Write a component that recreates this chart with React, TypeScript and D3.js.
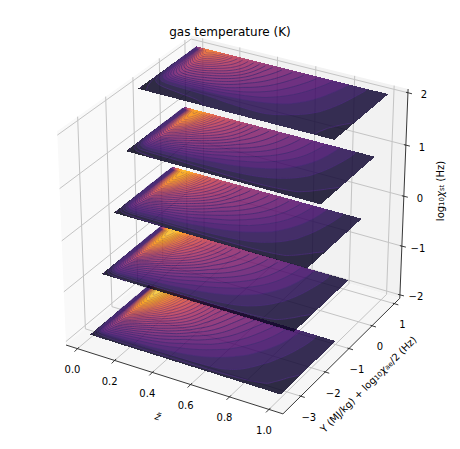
import { useEffect, useRef } from 'react';
import * as d3 from 'd3';

// tick values
const xTicks = [0, 0.2, 0.4, 0.6, 0.8, 1];
const yTicks = [-3, -2, -1, 0, 1];
const zTicks = [-2, -1, 0, 1, 2];

// sample positions of the tables below
const zGrid = [0, 0.01, 0.025, 0.05, 0.08, 0.13, 0.2, 0.3, 0.4, 0.55, 0.7, 0.85, 1];
const yGrid = [-2.25, -2.14, -2.03, -1.8, -1.58, -1.35, -1.01, -0.68, -0.34, 0];

const sliceM2 = [
  1, 2, 3, 3.5, 4, 4.5, 5, 5, 5, 5, 5, 5, 4.5,
  2, 5, 7, 8, 8.5, 9, 9, 9, 9, 9, 8.5, 7.5, 6,
  2, 7, 12, 14, 14, 13, 12.5, 12, 11.5, 10.8, 10, 8.2, 6.3,
  3, 12, 21, 25, 24, 22, 20, 17.5, 15, 12.5, 11, 8.6, 6.5,
  3, 15, 29, 35, 33, 29, 26, 22, 18, 14, 11.5, 9, 6.7,
  4, 18, 36, 45, 43, 37, 31, 26, 21, 16, 12.5, 9.3, 6.9,
  5, 22, 45, 60, 57, 47, 42, 35, 28, 19, 14, 10, 7,
  6, 26, 52, 72, 70, 56, 48, 39, 31, 21, 15.5, 10.5, 7.2,
  7, 28, 56, 80, 80, 63, 52, 42, 33, 22.5, 16.5, 11, 7.4,
  8, 30, 58, 82, 84, 66, 54, 43, 34, 25, 17.5, 11, 7.5,
];
const sliceM1 = [
  1, 2, 2.5, 3, 3.5, 4, 4.5, 4.5, 5, 5, 5, 5, 4.5,
  2, 4, 6, 6.5, 7, 7.5, 7.5, 7.5, 7.5, 7.5, 7.5, 7, 5.5,
  2, 6, 10, 12, 12, 11.5, 11, 10.8, 10.5, 10.2, 9.6, 8, 6.2,
  3, 11, 19, 23, 22, 20, 18, 16, 14, 12, 10.6, 8.6, 6.5,
  3, 14, 27, 33, 31, 27, 24, 20, 17, 14, 11.5, 9.2, 6.7,
  4, 17, 34, 43, 41, 34, 29, 24, 20, 16, 12.5, 9.6, 6.9,
  5, 21, 43, 58, 55, 45, 39, 32, 26, 19.5, 14.5, 10.2, 7,
  6, 25, 50, 69, 68, 54, 45, 37, 29, 22, 16, 10.6, 7.2,
  7, 27, 54, 77, 78, 61, 50, 40, 32, 23.5, 17, 11, 7.4,
  8, 29, 56, 79, 82, 64, 52, 42, 33, 24.5, 17.5, 11.2, 7.5,
];
const slice0 = [
  1, 2, 2.5, 3, 3.5, 4, 4, 4.5, 5, 5, 5, 5, 4.5,
  2, 3.5, 5, 5.5, 5.8, 6, 6.2, 6.5, 6.8, 7, 7, 6.5, 5.3,
  2, 5, 8, 9, 9.5, 9.5, 9.5, 9.6, 9.6, 9.6, 9.4, 7.8, 6,
  3, 9, 16, 20, 20, 18, 16.5, 15, 13.5, 11.5, 10.3, 8.5, 6.4,
  3, 13, 25, 30, 29, 26, 23, 19.5, 16.5, 13.5, 11.3, 9.2, 6.7,
  4, 16, 31, 40, 38, 33, 28, 23.5, 19.5, 15.5, 12.4, 9.6, 6.9,
  5, 20, 40, 54, 52, 43, 37, 31, 25, 19, 14.2, 10.2, 7,
  6, 23, 47, 65, 64, 52, 43, 36, 28.5, 21.5, 15.8, 10.6, 7.2,
  7, 25, 50, 72, 74, 59, 48, 39, 31, 23, 16.8, 11, 7.4,
  8, 27, 52, 74, 77, 62, 50, 41, 32, 24, 17.3, 11.2, 7.5,
];
const sliceP1 = [
  1, 2, 3, 3.5, 4, 4.5, 5, 5, 5.5, 6, 6, 5.5, 4.5,
  2, 3, 4.5, 5, 5.3, 5.6, 6, 6.3, 6.8, 7.4, 7.4, 6.5, 5.3,
  2, 4, 6, 7, 7.4, 7.7, 8, 8.4, 8.8, 9.2, 9, 7.8, 5.9,
  3, 7, 12, 15, 16, 15, 14, 13.2, 12.3, 11, 10, 8.5, 6.3,
  3, 11, 21, 26, 26, 24, 21, 18, 15.5, 13, 11, 9.2, 6.6,
  4, 14, 27, 36, 35, 31, 26.5, 22.5, 18.5, 15, 12.2, 9.6, 6.9,
  5, 18, 36, 49, 48, 41, 35, 29.5, 24, 18.5, 14, 10.2, 7,
  6, 21, 43, 60, 59, 49, 41, 35, 28, 21, 15.7, 10.6, 7.2,
  7, 23, 46, 67, 69, 56, 46, 38, 30, 22.5, 16.5, 11, 7.4,
  8, 25, 48, 69, 72, 59, 48, 40, 31, 23.5, 17, 11.2, 7.5,
];
const sliceP2 = [
  1, 3, 4.5, 5.2, 5.6, 6, 6.5, 7, 8, 9.5, 10.4, 9, 5,
  2, 3.5, 5, 5.5, 6, 6.3, 6.6, 7.2, 8.5, 9.6, 10, 8.6, 5.5,
  2, 4, 5, 6, 6.5, 6.8, 7, 7.6, 9, 9.8, 10, 8.6, 5.8,
  3, 5, 6.5, 7.5, 8, 8.5, 9, 9.5, 11, 10.4, 10, 8.8, 6.2,
  4, 7, 11, 14, 15, 15.5, 15.5, 15, 13.5, 12, 10.8, 9.3, 6.5,
  4, 9, 15, 21, 24, 25, 24, 21, 18, 14.5, 11.5, 9.6, 6.8,
  5, 12, 21, 29, 33, 33, 31, 27, 22, 17, 13, 10, 7,
  6, 16, 28, 39, 43, 42, 38, 33, 25, 18.5, 14, 10.3, 7.2,
  7, 20, 36, 50, 54, 50, 44, 37, 27, 20, 15, 10.5, 7.4,
  8, 25, 45, 63, 65, 58, 46, 36, 29, 21, 16, 11, 7.5,
];
const sliceLevels = [-2, -1, 0, 1, 2];
const sliceValues = [sliceM2, sliceM1, slice0, sliceP1, sliceP2];

const width = 460;
const height = 449;
const xLim = [-0.0625, 1.07];
const yLim = [-3.71, 1.25];
const zLim = [-2.07, 2.07];

// same camera as mplot3d: azim -60, elev 30, dist 10
const U = [0.866, 0.5, 0];
const V = [-0.25, 0.433, 0.866];
const N = [0.433, -0.75, 0.5];
const nx = d3.scaleLinear().domain(xLim).range([-0.5, 0.5]);
const ny = d3.scaleLinear().domain(yLim).range([-0.5, 0.5]);
const nz = d3.scaleLinear().domain(zLim).range([-0.5, 0.5]);
const project = (x: number, y: number, z: number): [number, number] => {
  const c = [nx(x), ny(y), nz(z)];
  const dot = (a: number[]) => a[0] * c[0] + a[1] * c[1] + a[2] * c[2];
  const w = 10 - dot(N);
  return [235.5 + (2504 * dot(U)) / w, 218.2 - (2440 * dot(V)) / w];
};

// table percent -> position on the inferno map
const colorPos = d3.scaleLinear()
  .domain([0, 5, 7.5, 10, 12.5, 15, 20, 25, 40, 60, 80, 100])
  .range([0.02, 0.06, 0.08, 0.11, 0.17, 0.21, 0.27, 0.33, 0.46, 0.68, 0.88, 1]);

// contour lines fade out over the hot part of a slice
const lineOpacity = d3.scaleLinear().domain([28, 60]).range([0.9, 0.25]).clamp(true);

const FINE = 4;

// resample a table on a finer index grid and soften it, so contours do not show the table cells
const refine = (values: number[], n: number, m: number) => {
  const fn = (n - 1) * FINE + 1;
  const fm = (m - 1) * FINE + 1;
  const out = new Float64Array(fn * fm);
  for (let j = 0; j < fm; j++) {
    const jj = Math.min(Math.floor(j / FINE), m - 2);
    const tj = j / FINE - jj;
    for (let i = 0; i < fn; i++) {
      const ii = Math.min(Math.floor(i / FINE), n - 2);
      const ti = i / FINE - ii;
      const a = d3.interpolateNumber(values[jj * n + ii], values[jj * n + ii + 1])(ti);
      const b = d3.interpolateNumber(values[(jj + 1) * n + ii], values[(jj + 1) * n + ii + 1])(ti);
      out[j * fn + i] = d3.interpolateNumber(a, b)(tj);
    }
  }
  d3.blur2({ data: out, width: fn, height: fm }, 1.5);
  return { data: Array.from(out), fn, fm };
};

const App = () => {
  const svgRef = useRef<SVGSVGElement>(null);

  useEffect(() => {
    if (!svgRef.current) return;
    const svg = d3.select(svgRef.current);
    svg.selectAll('*').remove();
    const line = d3.line();
    const [x0, x1] = xLim;
    const [y0, y1] = yLim;
    const [z0, z1] = zLim;

    // panes
    const panes: [[number, number, number][], string][] = [
      [[[x0, y0, z0], [x0, y1, z0], [x0, y1, z1], [x0, y0, z1]], '#f9f9f9'],
      [[[x0, y1, z0], [x1, y1, z0], [x1, y1, z1], [x0, y1, z1]], '#f2f2f2'],
      [[[x0, y0, z0], [x1, y0, z0], [x1, y1, z0], [x0, y1, z0]], '#f6f6f6'],
    ];
    panes.forEach(([pts, fill]) => {
      svg.append('path')
        .attr('d', line(pts.map(p => project(p[0], p[1], p[2]))) + 'Z')
        .attr('fill', fill);
    });

    // grid
    const grid = (pts: [number, number, number][]) => {
      svg.append('path')
        .attr('d', line(pts.map(p => project(p[0], p[1], p[2]))))
        .attr('fill', 'none')
        .attr('stroke', '#c4c4c4')
        .attr('stroke-width', 1);
    };
    xTicks.forEach(t => grid([[t, y0, z0], [t, y1, z0], [t, y1, z1]]));
    yTicks.forEach(t => grid([[x1, t, z0], [x0, t, z0], [x0, t, z1]]));
    zTicks.forEach(t => grid([[x0, y0, t], [x0, y1, t], [x1, y1, t]]));

    // slices
    const n = zGrid.length;
    const m = yGrid.length;
    const iToX = d3.scaleLinear().domain(d3.range(n)).range(zGrid).clamp(true);
    const jToV = d3.scaleLinear().domain(d3.range(m)).range(yGrid).clamp(true);
    const thresholds = d3.range(0, 100, 2.5);
    const strokeLine = d3.line().curve(d3.curveCatmullRom);

    sliceLevels.forEach((level, s) => {
      const { data, fn, fm } = refine(sliceValues[s], n, m);
      const contours = d3.contours().size([fn, fm]).thresholds(thresholds);
      const bands = contours(data);
      const g = svg.append('g').attr('opacity', 0.85);
      const toScreen = (u: number, v: number) =>
        project(iToX((u - 0.5) / FINE), jToV((v - 0.5) / FINE) + level / 2, level);
      bands.forEach(c => {
        const d = c.coordinates
          .flatMap(poly => poly.map(ring => line(ring.map(p => toScreen(p[0], p[1]))) + 'Z'))
          .join('');
        if (!d) return;
        g.append('path')
          .attr('d', d)
          .attr('fill', d3.interpolateInferno(colorPos(c.value + 1.25)))
          .attr('fill-rule', 'evenodd')
          .attr('shape-rendering', 'crispEdges');
      });
      // contour lines, without the parts that run along the slice border
      const inside = (p: number[]) =>
        p[0] > 0.5 && p[0] < fn - 0.5 && p[1] > 0.5 && p[1] < fm - 0.5;
      bands.forEach(c => {
        if (c.value === 0) return;
        c.coordinates.forEach(poly => poly.forEach(ring => {
          let run: [number, number][] = [];
          const flush = () => {
            if (run.length > 1) {
              g.append('path')
                .attr('d', strokeLine(run))
                .attr('fill', 'none')
                .attr('stroke', '#2a0a5e')
                .attr('stroke-opacity', lineOpacity(c.value))
                .attr('stroke-width', 1);
            }
            run = [];
          };
          ring.forEach(p => {
            if (inside(p)) run.push(toScreen(p[0], p[1]));
            else flush();
          });
          flush();
        }));
      });
    });

    // axis lines
    const axes: [number, number, number][][] = [
      [[x0, y0, z0], [x1, y0, z0]],
      [[x1, y0, z0], [x1, y1, z0]],
      [[x1, y1, z0], [x1, y1, z1]],
    ];
    axes.forEach(pts => {
      svg.append('path')
        .attr('d', line(pts.map(p => project(p[0], p[1], p[2]))))
        .attr('stroke', '#222')
        .attr('stroke-width', 0.9)
        .attr('fill', 'none');
    });

    // ticks and tick labels
    const tick = (
      p: [number, number],
      a: number[],
      b: number[],
      off: number[],
      label: string,
    ) => {
      svg.append('line')
        .attr('x1', p[0] + a[0]).attr('y1', p[1] + a[1])
        .attr('x2', p[0] + b[0]).attr('y2', p[1] + b[1])
        .attr('stroke', '#222').attr('stroke-width', 0.9);
      svg.append('text')
        .attr('x', p[0] + off[0]).attr('y', p[1] + off[1])
        .attr('text-anchor', 'middle')
        .attr('dominant-baseline', 'central')
        .style('font-family', 'DejaVu Sans')
        .style('font-size', '10px')
        .text(label);
    };
    const minus = (t: number) => String(t).replace('-', '\u2212');
    xTicks.forEach(t =>
      tick(project(t, y0, z0), [1.5, -1.5], [-3, 3], [-5, 21], t.toFixed(1)));
    yTicks.forEach(t =>
      tick(project(x1, t, z0), [-1.5, -0.5], [4, 1.2], [8, 21], minus(t)));
    zTicks.forEach(t =>
      tick(project(x1, y1, t), [-2, -0.5], [4, 1], [16, 2], minus(t)));

    // title and axis labels
    svg.append('text')
      .attr('x', 230).attr('y', 36)
      .attr('text-anchor', 'middle')
      .style('font-family', 'DejaVu Sans')
      .style('font-size', '12px')
      .text('gas temperature (K)');

    const label = (
      x: number,
      y: number,
      angle: number,
      parts: [string, boolean?, boolean?][],
    ) => {
      const t = svg.append('text')
        .attr('transform', `translate(${x},${y}) rotate(${angle})`)
        .attr('text-anchor', 'middle')
        .attr('dominant-baseline', 'central')
        .style('font-family', 'DejaVu Sans')
        .style('font-size', '10px');
      let low = false;
      parts.forEach(([text, sub, italic]) => {
        const shift = sub && !low ? 2 : !sub && low ? -2 : 0;
        low = !!sub;
        t.append('tspan')
          .attr('dy', shift)
          .style('font-size', sub ? '7px' : '10px')
          .style('font-style', italic ? 'italic' : 'normal')
          .text(text);
      });
    };
    label(158, 416, 17, [['z\u0303', false, true]]);
    label(368, 384, -45, [
      ['Y (MJ/kg) + log'], ['10', true], ['\u03c7', false, true], ['ae', true], ['/2 (Hz)'],
    ]);
    label(440, 191, -90, [
      ['log'], ['10', true], ['\u03c7', false, true], ['st', true], [' (Hz)'],
    ]);
  }, []);

  return (
    <svg
      ref={svgRef}
      width={width}
      height={height}
      style={{ position: 'absolute', left: 0, top: 0, background: '#fff' }}
    />
  );
};

export default App;
